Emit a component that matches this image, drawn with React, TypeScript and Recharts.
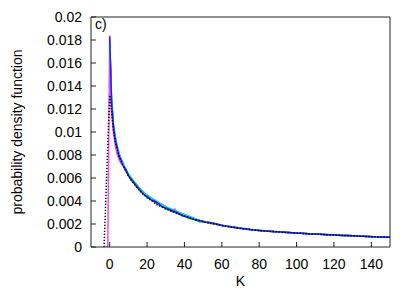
import React from 'react';
import { LineChart, Line, XAxis, YAxis, Label } from 'recharts';

const kMain = [0, 1, 2, 3, 4, 5, 6, 7, 8, 9, 10, 12, 14, 16, 18, 20, 22, 24, 26, 28, 30, 33, 36, 39, 42, 45, 48, 51, 54, 57, 60, 64, 68, 72, 76, 80, 84, 88, 92, 96, 100, 104, 108, 112, 116, 120, 124, 128, 132, 136, 140, 144, 148, 150];

const redValues = [0.0180, 0.0128, 0.0106, 0.0095, 0.0087, 0.0081, 0.0076, 0.0073, 0.0068, 0.0066, 0.0062, 0.0058, 0.0053, 0.0050, 0.0046, 0.0044, 0.0042, 0.0039, 0.0037, 0.0036, 0.0034, 0.0031, 0.0030, 0.0028, 0.0026, 0.0024, 0.0023, 0.0022, 0.00205, 0.0020, 0.00186, 0.00179, 0.00166, 0.00157, 0.00151, 0.00143, 0.00140, 0.00133, 0.00128, 0.00127, 0.00121, 0.00119, 0.00113, 0.00111, 0.00106, 0.00105, 0.00100, 0.00099, 0.00095, 0.00094, 0.00089, 0.00088, 0.00084, 0.00086];

const greenValues = [0.0176, 0.0122, 0.0104, 0.0094, 0.0085, 0.0080, 0.0075, 0.0072, 0.0069, 0.0065, 0.0063, 0.0057, 0.0054, 0.0049, 0.0047, 0.0043, 0.0042, 0.0040, 0.0037, 0.0036, 0.0033, 0.0032, 0.0029, 0.0028, 0.0025, 0.0024, 0.0022, 0.0022, 0.0021, 0.00195, 0.00189, 0.00176, 0.00169, 0.00157, 0.00149, 0.00145, 0.00138, 0.00135, 0.00129, 0.00125, 0.00123, 0.00117, 0.00115, 0.00110, 0.00109, 0.00104, 0.00103, 0.00098, 0.00097, 0.00092, 0.00091, 0.00087, 0.00086, 0.00084];

const blueValues = [0.0183, 0.0126, 0.0105, 0.0093, 0.0086, 0.0079, 0.0076, 0.0071, 0.0069, 0.0066, 0.0062, 0.0058, 0.0054, 0.0050, 0.0046, 0.0044, 0.0041, 0.0040, 0.0038, 0.0035, 0.0034, 0.0032, 0.0030, 0.0027, 0.0026, 0.0024, 0.0023, 0.00215, 0.0021, 0.0020, 0.00187, 0.00177, 0.00168, 0.00159, 0.00150, 0.00144, 0.00139, 0.00134, 0.00131, 0.00126, 0.00121, 0.00118, 0.00114, 0.00112, 0.00107, 0.00106, 0.00101, 0.00099, 0.00096, 0.00093, 0.00090, 0.00088, 0.00085, 0.00085];

const cyanValues = [0.0178, 0.0131, 0.0108, 0.0096, 0.0088, 0.0082, 0.0077, 0.0074, 0.0070, 0.0067, 0.0064, 0.0059, 0.0055, 0.0051, 0.0048, 0.0045, 0.0043, 0.0041, 0.0039, 0.0037, 0.0035, 0.0033, 0.0031, 0.0029, 0.0027, 0.0025, 0.0023, 0.0022, 0.0021, 0.00201, 0.00189, 0.00179, 0.00169, 0.00159, 0.00152, 0.00145, 0.00139, 0.00135, 0.00130, 0.00127, 0.00122, 0.00119, 0.00114, 0.00112, 0.00108, 0.00105, 0.00102, 0.00100, 0.00096, 0.00094, 0.00090, 0.00089, 0.00085, 0.00086];

const kMagenta = [-1, 0, 1, 2, 3, 4, 5, 6, 7, 8, 9, 10, 12, 14, 16, 18, 20, 22, 24, 26, 28, 30, 33, 35, 36, 39, 42, 45, 48, 51, 54, 57, 60, 64, 68, 72, 76, 80, 84, 88, 92, 96, 100, 104, 108, 112, 116, 120, 124, 128, 132, 136, 140, 144, 148, 150];

const magentaValues = [0, 0.0184, 0.0118, 0.0099, 0.0088, 0.0081, 0.0076, 0.0073, 0.0071, 0.0068, 0.0066, 0.0063, 0.0059, 0.0055, 0.0051, 0.0048, 0.0045, 0.0043, 0.0041, 0.0038, 0.0037, 0.0035, 0.0032, 0.0033, 0.0030, 0.0029, 0.0027, 0.0025, 0.0023, 0.0022, 0.0021, 0.00202, 0.00190, 0.00180, 0.00167, 0.00160, 0.00151, 0.00143, 0.00140, 0.00133, 0.00131, 0.00125, 0.00123, 0.00118, 0.00115, 0.00110, 0.00108, 0.00104, 0.00102, 0.00098, 0.00097, 0.00093, 0.00091, 0.00087, 0.00087, 0.00084];

const kFit = [-3, -2, -1, 0, 1, 2, 3, 4, 5, 6, 8, 10, 12, 14, 16, 18, 20, 25, 30, 35, 40, 45, 50, 55, 60, 70, 80, 90, 100, 110, 120, 130, 140, 150];
const fitValues = [0, 0.0045, 0.0090, 0.0132, 0.0118, 0.0102, 0.0092, 0.0085, 0.0079, 0.0075, 0.0068, 0.0062, 0.0057, 0.0053, 0.0049, 0.0046, 0.0043, 0.0037, 0.0033, 0.0030, 0.0027, 0.0024, 0.0022, 0.00205, 0.00187, 0.00162, 0.00143, 0.00131, 0.00121, 0.00112, 0.00104, 0.00097, 0.00090, 0.00085];

const xTicks = [0, 20, 40, 60, 80, 100, 120, 140];
const yTicks = [0, 0.002, 0.004, 0.006, 0.008, 0.01, 0.012, 0.014, 0.016, 0.018, 0.02];

const toRows = (ks: number[], vs: number[]) => ks.map((k, i) => ({ k, v: vs[i] }));

const FONT = '"Liberation Sans", Arial, sans-serif';
const AX = '#222';

export default function App() {
  const series = [
    { name: 'red', color: '#ff0000', data: toRows(kMain, redValues) },
    { name: 'green', color: '#00cc00', data: toRows(kMain, greenValues) },
    { name: 'magenta', color: '#ff44ff', data: toRows(kMagenta, magentaValues) },
    { name: 'cyan', color: '#00e0e0', data: toRows(kMain, cyanValues) },
    { name: 'blue', color: '#2020ff', data: toRows(kMain, blueValues) },
  ];
  return (
    <div style={{ position: 'fixed', left: 0, top: 0, width: 415, height: 291, background: '#fff', fontFamily: FONT }}>
      <LineChart width={415} height={291} margin={{ top: 12, right: 20, bottom: 14, left: 31 }} style={{ fontFamily: FONT }}>
        <XAxis xAxisId="b" dataKey="k" type="number" domain={[-10, 150]} ticks={xTicks} allowDataOverflow
          height={30} tickSize={-5} tickMargin={17} stroke={AX} tick={{ fill: '#000', fontSize: 14 }} interval={0}>
          <Label value="K" position="insideBottom" offset={-9} style={{ fill: '#000', fontSize: 14 }} />
        </XAxis>
        <XAxis xAxisId="t" orientation="top" dataKey="k" type="number" domain={[-10, 150]} ticks={xTicks} allowDataOverflow
          height={5} tickSize={-5} stroke={AX} tick={false} interval={0} />
        <YAxis yAxisId="l" type="number" domain={[0, 0.02]} ticks={yTicks} allowDataOverflow width={60}
          tickSize={-5} tickMargin={14} stroke={AX} tick={{ fill: '#000', fontSize: 14 }} interval={0}
          tickFormatter={(v: number) => String(v)}>
          <Label value="probability density function" angle={-90} position="insideLeft" offset={-14}
            style={{ fill: '#000', fontSize: 14, textAnchor: 'middle' }} />
        </YAxis>
        <YAxis yAxisId="r" orientation="right" type="number" domain={[0, 0.02]} ticks={yTicks} allowDataOverflow width={5}
          tickSize={-5} stroke={AX} tick={false} interval={0} />
        {series.map((s) => (
          <Line key={s.name} xAxisId="b" yAxisId="l" data={s.data} dataKey="v" type="linear" stroke={s.color}
            strokeWidth={1.5} dot={false} isAnimationActive={false} />
        ))}
        <Line xAxisId="b" yAxisId="l" data={toRows(kFit, fitValues)} dataKey="v" type="linear" stroke="#000"
          strokeWidth={1.5} strokeDasharray="1.2 1.8" dot={false} isAnimationActive={false} />
      </LineChart>
      <div style={{ position: 'absolute', left: 95, top: 16, fontSize: 14, color: '#000', fontFamily: FONT, lineHeight: '16px' }}>c)</div>
    </div>
  );
}
